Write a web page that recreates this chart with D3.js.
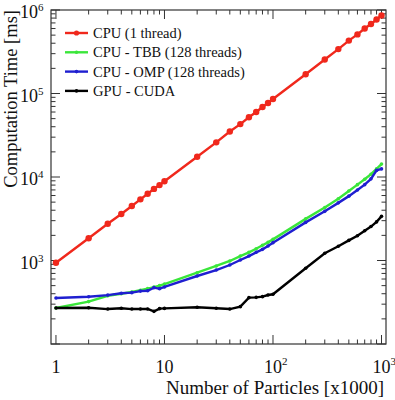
<!DOCTYPE html>
<html>
<head>
<meta charset="utf-8">
<script src="https://cdn.jsdelivr.net/npm/d3@7"></script>
<style>
  body { margin: 0; background: #fff; }
  text { font-family: "Liberation Serif", "Times New Roman", serif; fill: #111; }
</style>
</head>
<body>
<div id="chart"></div>
<script>
var particles = [1, 2, 3, 4, 5, 6, 7, 8, 9, 10,
                 20, 30, 40, 50, 60, 70, 80, 90, 100,
                 200, 300, 400, 500, 600, 700, 800, 900, 1000];

var cpuSingle = [940, 1850, 2750, 3600, 4500, 5400, 6300, 7200, 8000, 8900,
                 17500, 26000, 35000, 43000, 52000, 60000, 69000, 77000, 86000,
                 170000, 255000, 340000, 430000, 510000, 600000, 680000, 770000, 860000];
var cpuTBB = [270, 322, 378, 400, 420, 440, 460, 480, 500, 522,
              714, 860, 987, 1130, 1253, 1383, 1520, 1650, 1790,
              3150, 4300, 5500, 6800, 8100, 9400, 10800, 12500, 14300];
var cpuOMP = [356, 368, 385, 405, 412, 430, 434, 473, 460, 482,
              652, 769, 883, 1014, 1130, 1253, 1360, 1490, 1635,
              2860, 3880, 4900, 5900, 7000, 8100, 9500, 12000, 12500];
var gpuCUDA = [270, 272, 262, 268, 262, 262, 263, 246, 265, 267,
               275, 268, 262, 280, 359, 362, 369, 386, 394,
               808, 1220, 1480, 1740, 1980, 2270, 2550, 2900, 3380];

var seriesNames = ["CPU (1 thread)", "CPU - TBB (128 threads)", "CPU - OMP (128 threads)", "GPU - CUDA"];
var seriesColors = ["#f0281c", "#3ae63a", "#1f1fd0", "#000000"];
var seriesValues = [cpuSingle, cpuTBB, cpuOMP, gpuCUDA];

var xDecades = [1, 10, 100, 1000];
var xTickLabels = [["1", ""], ["10", ""], ["10", "2"], ["10", "3"]];
var yDecades = [1e3, 1e4, 1e5, 1e6];
var yTickLabels = [["10", "3"], ["10", "4"], ["10", "5"], ["10", "6"]];

var W = 395, H = 400;
var margin = { top: 10, right: 9, bottom: 56, left: 51 };
var width = W - margin.left - margin.right,
    height = H - margin.top - margin.bottom;

var svg = d3.select("#chart").append("svg")
    .attr("width", W)
    .attr("height", H);

var g = svg.append("g")
    .attr("transform", "translate(" + margin.left + "," + margin.top + ")");

var x = d3.scaleLog().domain([0.9, 1100]).range([0, width]);
var y = d3.scaleLog().domain([100, 1e6]).range([height, 0]);

// minor + major tick values
var xMinor = [];
for (var d = 1; d <= 1000; d *= 10) {
    for (var k = 1; k <= 9; k++) {
        if (d * k <= 1100) xMinor.push(d * k);
    }
}
var yMinor = [];
for (var d2 = 100; d2 < 1e6; d2 *= 10) {
    for (var k2 = 1; k2 <= 9; k2++) yMinor.push(d2 * k2);
}
yMinor.push(1e6);

function isMajor(v) { return Math.abs(Math.log10(v) - Math.round(Math.log10(v))) < 1e-9; }

var tickColor = "#333";

// bottom and top ticks
g.selectAll(".xtick_b").data(xMinor).enter().append("line")
    .attr("x1", function (d) { return x(d); })
    .attr("x2", function (d) { return x(d); })
    .attr("y1", height)
    .attr("y2", function (d) { return height - (isMajor(d) ? 9 : 4.5); })
    .attr("stroke", tickColor);
g.selectAll(".xtick_t").data(xMinor).enter().append("line")
    .attr("x1", function (d) { return x(d); })
    .attr("x2", function (d) { return x(d); })
    .attr("y1", 0)
    .attr("y2", function (d) { return isMajor(d) ? 9 : 4.5; })
    .attr("stroke", tickColor);

// left and right ticks
g.selectAll(".ytick_l").data(yMinor).enter().append("line")
    .attr("y1", function (d) { return y(d); })
    .attr("y2", function (d) { return y(d); })
    .attr("x1", 0)
    .attr("x2", function (d) { return isMajor(d) ? 9 : 4.5; })
    .attr("stroke", tickColor);
g.selectAll(".ytick_r").data(yMinor).enter().append("line")
    .attr("y1", function (d) { return y(d); })
    .attr("y2", function (d) { return y(d); })
    .attr("x1", width)
    .attr("x2", function (d) { return width - (isMajor(d) ? 9 : 4.5); })
    .attr("stroke", tickColor);

// frame
g.append("rect")
    .attr("width", width)
    .attr("height", height)
    .attr("fill", "none")
    .attr("stroke", tickColor)
    .attr("stroke-width", 1.2);

// x tick labels
xDecades.forEach(function (v, i) {
    var lab = xTickLabels[i];
    var base = lab[0].length * 9;
    var t = g.append("text")
        .attr("x", x(v) - base / 2)
        .attr("y", height + 29)
        .style("font-size", "18px");
    t.append("tspan").text(lab[0]);
    if (lab[1]) {
        t.append("tspan").attr("dy", -8).style("font-size", "11px").text(lab[1]);
    }
});

// y tick labels
yDecades.forEach(function (v, i) {
    var lab = yTickLabels[i];
    var t = g.append("text")
        .attr("x", -31)
        .attr("y", y(v) + 8)
        .style("font-size", "18px");
    t.append("tspan").text(lab[0]);
    t.append("tspan").attr("dy", -7).style("font-size", "11px").text(lab[1]);
});

// axis titles
svg.append("text")
    .attr("x", margin.left + width - 2)
    .attr("y", 394)
    .attr("text-anchor", "end")
    .style("font-size", "19px")
    .text("Number of Particles [x1000]");

svg.append("text")
    .attr("transform", "translate(17," + (margin.top) + ") rotate(-90)")
    .attr("text-anchor", "end")
    .style("font-size", "18.5px")
    .text("Computation Time [ms]");

// lines
var line = d3.line()
    .x(function (d) { return x(d[0]); })
    .y(function (d) { return y(d[1]); });

var drawOrder = [1, 2, 3, 0];
drawOrder.forEach(function (s) {
    var pts = particles.map(function (p, j) { return [p, seriesValues[s][j]]; });
    g.append("path")
        .datum(pts)
        .attr("d", line)
        .attr("fill", "none")
        .attr("stroke", seriesColors[s])
        .attr("stroke-width", 2.4);
    g.selectAll(".pt" + s).data(pts).enter().append("circle")
        .attr("cx", function (d) { return x(d[0]); })
        .attr("cy", function (d) { return y(d[1]); })
        .attr("r", s === 0 ? 3.2 : 1.8)
        .attr("fill", seriesColors[s]);
});

// legend
var legend = g.append("g").attr("transform", "translate(14,23)");
seriesNames.forEach(function (name, i) {
    var row = legend.append("g").attr("transform", "translate(0," + (i * 19.3) + ")");
    row.append("line")
        .attr("x1", 0).attr("x2", 23)
        .attr("stroke", seriesColors[i])
        .attr("stroke-width", 2.4);
    row.append("circle")
        .attr("cx", 11.5).attr("cy", 0)
        .attr("r", i === 0 ? 2.6 : 1.8)
        .attr("fill", seriesColors[i]);
    row.append("text")
        .attr("x", 28)
        .attr("y", 5)
        .style("font-size", "14.5px")
        .text(name);
});
</script>
</body>
</html>
